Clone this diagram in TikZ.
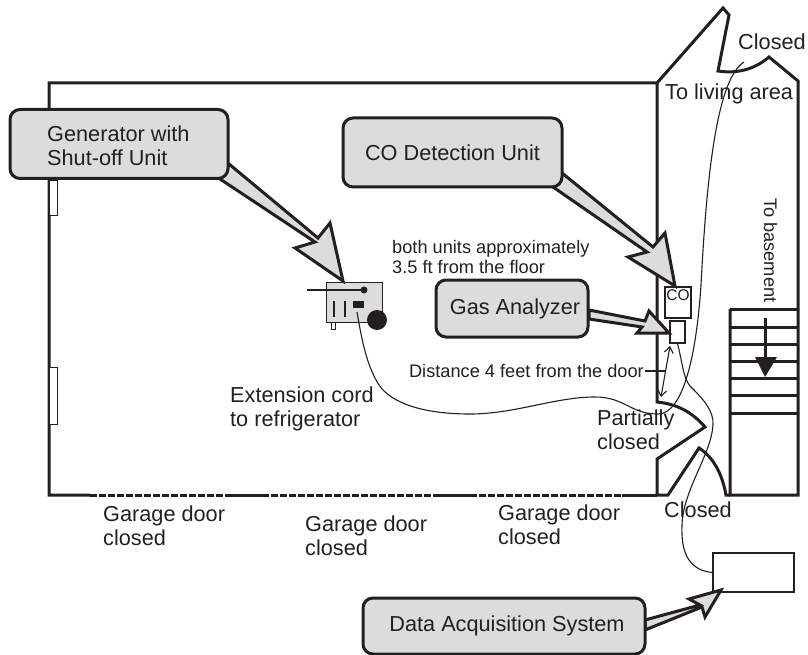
\documentclass[tikz,border=0pt]{standalone}
\usepackage{fontspec}
\usetikzlibrary{arrows.meta}
\setmainfont{Liberation Sans}
\definecolor{ink}{HTML}{231F20}
\definecolor{panel}{HTML}{DCDCDC}
\tikzset{
    wall/.style={draw=ink, line width=3pt, line join=miter},
    wire/.style={draw=ink, line width=1.1pt},
    callout/.style={draw=ink, line width=3pt, fill=panel, rounded corners=10pt, minimum width=#1, inner sep=0pt},
    pointer/.style={draw=ink, line width=3pt, fill=panel, line join=miter},
    big/.style={text=ink, inner sep=0pt, align=left, font=\fontsize{21.7}{24}\selectfont},
    small/.style={text=ink, inner sep=0pt, align=left, font=\fontsize{18.2}{20.5}\selectfont},
}
\begin{document}
\begin{tikzpicture}[x=1pt, y=-1pt]
    \useasboundingbox (0, 0) rectangle (808, 655);

    \draw [wall] (657, 495) -- (657, 459) -- (705, 427) .. controls (692, 412) and (677, 404) .. (657, 402) -- (657, 83) -- (49, 83) -- (49, 495) -- (90, 495);
    \draw [wall] (657, 83) -- (723, 8) -- (729, 15) -- (718, 71) .. controls (738, 74) and (755, 69) .. (769, 57) -- (798, 81) -- (798, 495) -- (730, 495) -- (730, 309);
    \draw [wall] (655, 495) -- (668, 495) -- (699, 448) .. controls (713, 457) and (722, 473) .. (726, 495) -- (730, 495);
    \draw [wall] (232, 495) -- (262, 495);
    \draw [wall] (440, 495) -- (470, 495);
    \draw [wall] (622, 495) -- (657, 495);
    \draw [wall, dash pattern=on 6.5pt off 2.5pt] (90, 495) -- (232, 495);
    \draw [wall, dash pattern=on 6.5pt off 2.5pt] (262, 495) -- (440, 495);
    \draw [wall, dash pattern=on 6.5pt off 2.5pt] (470, 495) -- (622, 495);

    \draw [draw=ink, line width=0.5pt, fill=white] (49, 180) rectangle (57, 215);
    \draw [draw=ink, line width=0.5pt, fill=white] (49, 367) rectangle (57, 424);

    \foreach \y in {309, 327, 344, 361, 378, 395, 413}
        \draw [wall] (730, \y) -- (798, \y);
    \draw [wall] (765, 318) -- (765, 360);
    \fill [ink] (755, 357) -- (777, 357) -- (765, 377) -- cycle;

    \node (cobox) [draw=ink, line width=1.5pt, fill=white, minimum width=26pt, minimum height=31pt, inner sep=0pt] at (678, 302.5) {};
    \node [text=ink, inner sep=0pt, font=\fontsize{15.5}{18}\selectfont] at (678, 295) {CO};
    \node (probe) [draw=ink, line width=1.5pt, fill=white, minimum width=15pt, minimum height=22pt, inner sep=0pt] at (677.5, 332) {};
    \node (daq) [draw=ink, line width=1.5pt, fill=white, minimum width=81pt, minimum height=39pt, inner sep=0pt] at (753.5, 572.5) {};

    \draw [draw=ink, line width=0.7pt, fill=panel] (326, 282) rectangle (382, 322);
    \draw [draw=ink, line width=1pt, fill=white] (331, 322) rectangle (335, 329);
    \draw [wire] (307, 290) -- (364, 290);
    \fill [ink] (364, 290) circle [radius=3.5];
    \draw [ink, line width=1.5pt] (334, 301) -- (334, 317);
    \draw [ink, line width=1.5pt] (345, 301) -- (345, 317);
    \fill [ink] (353, 301) rectangle (364, 308);
    \fill [ink] (377, 320) circle [radius=10];

    \coordinate (plug) at (357, 312);
    \coordinate (catch) at (744, 62);
    \coordinate (doorleft) at (645, 371);
    \draw [wire] (plug) .. controls (361, 335) and (366, 365) .. (379, 385) .. controls (392, 404) and (425, 414) .. (470, 414) .. controls (515, 414) and (555, 397) .. (595, 397) .. controls (625, 397) and (630, 414) .. (658, 414) .. controls (682, 414) and (696, 360) .. (701, 285) .. controls (706, 190) and (715, 80) .. (catch);
    \draw [wire] (probe.south) .. controls (682, 360) and (683, 378) .. (690, 386) .. controls (702, 398) and (714, 410) .. (713, 425) .. controls (711, 455) and (683, 490) .. (682, 525) .. controls (681, 550) and (687, 570) .. (daq.west);
    \draw [wire, <->, >={Straight Barb[length=6pt, width=9pt]}] (670, 346) -- (661, 397);
    \draw [wire] (doorleft) -- (665, 371);

    \draw [pointer] (229, 164) -- (318, 238) -- (330, 223) -- (343, 281) -- (295, 248) -- (315, 242) -- (220, 179) -- cycle;
    \draw [pointer] (562, 173) -- (653, 247) -- (665, 233) -- (675, 286) -- (628, 257) -- (647, 252) -- (553, 187) -- cycle;
    \draw [pointer] (589, 310) -- (645, 321) -- (649, 311) -- (669, 333) -- (637, 333) -- (642, 327) -- (589, 319) -- cycle;
    \draw [pointer] (645, 620) -- (700, 605) -- (689, 599) -- (721, 590) -- (705, 617) -- (702, 607) -- (645, 630) -- cycle;

    \node (generator) [callout=218pt, minimum height=69pt] at (119, 144) {};
    \node [big, anchor=west] at (47, 146) {Generator with\\Shut-off Unit};
    \node (codetect) [callout=219pt, minimum height=69pt] at (452.5, 152.5) {};
    \node [big] at (codetect) {CO Detection Unit};
    \node (analyzer) [callout=152pt, minimum height=57pt] at (512, 308.5) {};
    \node [big] at (515, 309) {Gas Analyzer};
    \node (dataunit) [callout=282pt, minimum height=56pt] at (504, 626) {};
    \node [big] at (507, 626) {Data Acquisition System};

    \node [big, anchor=base west] at (738, 50) {Closed};
    \node [big, anchor=base west] at (665, 100) {To living area};
    \node [small, anchor=base west, rotate=-90] at (764, 198) {To basement};
    \node [small, anchor=base west] at (392, 253) {both units approximately};
    \node [small, anchor=base west] at (392, 273) {3.5 ft from the floor};
    \node [small, anchor=east] at (644, 371) {Distance 4 feet from the door};
    \node [big, anchor=west] at (230, 408.5) {Extension cord\\to refrigerator};
    \node [big, anchor=west] at (597, 430) {Partially\\closed};
    \node [big, anchor=base west] at (664, 517) {Closed};
    \node [big, anchor=west] at (103, 526) {Garage door\\closed};
    \node [big, anchor=west] at (305, 536) {Garage door\\closed};
    \node [big, anchor=west] at (498, 525) {Garage door\\closed};
\end{tikzpicture}
\end{document}
